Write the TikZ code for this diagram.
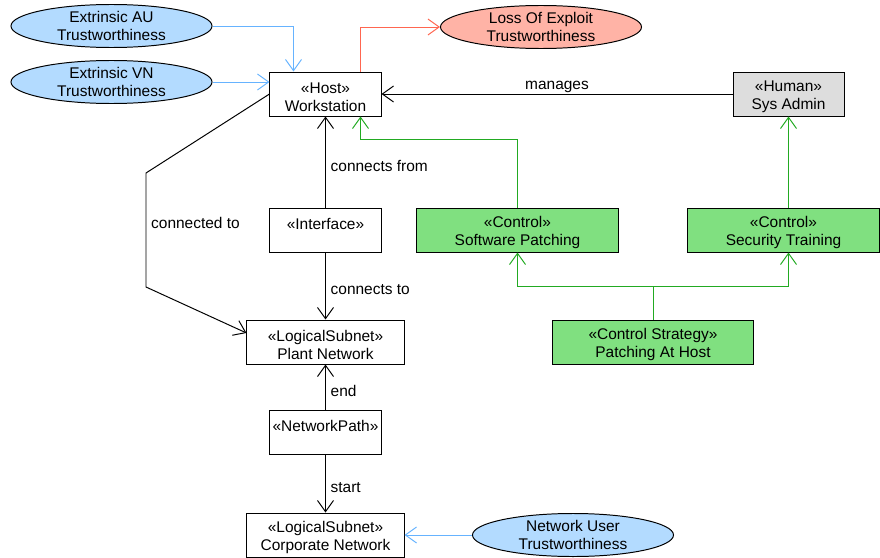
\documentclass[tikz,border=0pt]{standalone}
\usepackage{fontspec}
\setmainfont{Liberation Sans}
\usetikzlibrary{arrows.meta,shapes.geometric}

\definecolor{ovalblue}{HTML}{B3DBFF}
\definecolor{lineblue}{HTML}{66B3FF}
\definecolor{ovalred}{HTML}{FFB3A6}
\definecolor{linered}{HTML}{FF6650}
\definecolor{ctrlgreen}{HTML}{80E080}
\definecolor{linegreen}{HTML}{22AA22}
\definecolor{humangray}{HTML}{DDDDDD}

\tikzset{
    every node/.style={font=\fontsize{11}{12.8}\selectfont, align=center},
    box/.style={draw, fill=white, line width=0.7pt, minimum width=2.775cm, minimum height=1.1cm, inner sep=0pt, text height=25pt},
    widebox/.style={box, minimum width=3.925cm},
    human/.style={box, fill=humangray},
    ctrl/.style={box, fill=ctrlgreen, minimum width=5.025cm},
    oval/.style={ellipse, draw, line width=0.7pt, minimum width=5.025cm, minimum height=1.075cm, inner xsep=0pt, inner ysep=-1.5pt},
    blueoval/.style={oval, fill=ovalblue},
    redoval/.style={oval, fill=ovalred},
    edgelabel/.style={yshift=-0.1cm},
    link/.style={line width=0.7pt, -{Straight Barb[length=0.28cm,width=0.4cm]}},
    bluelink/.style={link, draw=lineblue},
    redlink/.style={link, draw=linered},
    greenlink/.style={link, draw=linegreen},
}

\begin{document}
\begin{tikzpicture}[x=0.025cm, y=-0.025cm]
    \useasboundingbox (0,0) rectangle (880,558);

    % nodes
    \node[blueoval] (au) at (111.5,26) {Extrinsic AU\\Trustworthiness};
    \node[blueoval] (vn) at (111.5,82) {Extrinsic VN\\Trustworthiness};
    \node[redoval] (loss) at (541,27) {Loss Of Exploit\\Trustworthiness};
    \node[box] (ws) at (325.5,94) {«Host»\\Workstation};
    \node[human] (admin) at (788.5,94) {«Human»\\Sys Admin};
    \node[box] (iface) at (325.5,230) {«Interface»\\~};
    \node[ctrl] (swp) at (517.5,230) {«Control»\\Software Patching};
    \node[ctrl, minimum width=4.8cm] (sect) at (783.5,230) {«Control»\\Security Training};
    \node[widebox] (plant) at (325.5,342) {«LogicalSubnet»\\Plant Network};
    \node[ctrl] (pah) at (653,342) {«Control Strategy»\\Patching At Host};
    \node[box] (npath) at (325.5,432) {«NetworkPath»\\~};
    \node[widebox] (corp) at (325.5,535) {«LogicalSubnet»\\Corporate Network};
    \node[blueoval] (nuser) at (573,535) {Network User\\Trustworthiness};

    % bends
    \coordinate (bendA) at (146,173);
    \coordinate (bendB) at (146,287);

    % connectors
    \draw[bluelink] (au.east) -| ([xshift=-0.8cm]ws.north);
    \draw[bluelink] (vn.east) -- (vn.east -| ws.west);
    \draw[redlink] ([xshift=0.875cm]ws.north) |- (loss.west);
    \draw[link] (admin.west) -- node[above, edgelabel] {manages} (ws.east);
    \draw[link] (iface.north) -- node[right, edgelabel] {connects from} (ws.south);
    \draw[link] (iface.south) -- node[right, edgelabel] {connects to} (plant.north);
    \draw[link] (ws.west) -- (bendA) -- node[pos=0.4, right, edgelabel] {connected to} (bendB) -- ([yshift=0.225cm]plant.west);
    \draw[link] (npath.north) -- node[right, edgelabel] {end} (plant.south);
    \draw[link] (npath.south) -- node[right, edgelabel] {start} (corp.north);
    \draw[bluelink] (nuser.west) -- (corp.east);
    \draw[greenlink] (swp.north) -- ++(0,-68) -| ([xshift=0.875cm]ws.south);
    \draw[greenlink] (admin.south |- sect.north) -- (admin.south);
    \draw[line width=0.7pt, draw=linegreen] (pah.north) -- ++(0,-33) coordinate (split);
    \draw[greenlink] (split) -| (swp.south);
    \draw[greenlink] (split) -| (admin.south |- sect.south);
\end{tikzpicture}
\end{document}
